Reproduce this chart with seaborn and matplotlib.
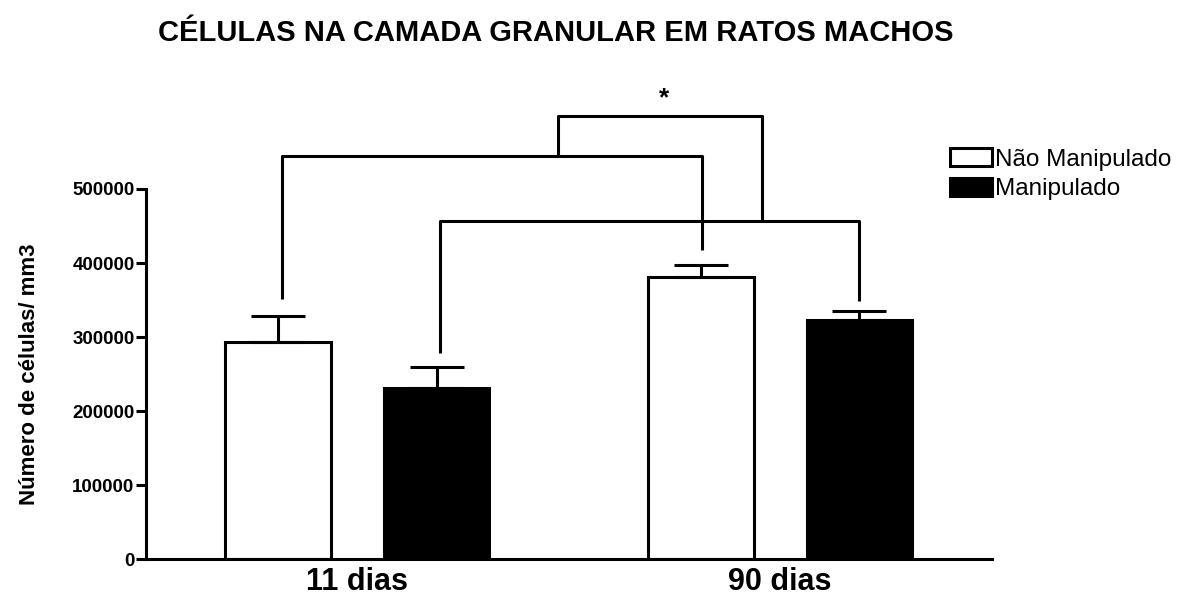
import matplotlib
matplotlib.use('Agg')
import matplotlib.pyplot as plt
import pandas as pd
import seaborn as sns
from matplotlib.patches import Patch

# Data
ages = ['11 dias', '90 dias']
groups = ['Não Manipulado', 'Manipulado']
means_nao = [292800, 381500]
means_man = [231500, 323000]
sem_nao = [35200, 16200]
sem_man = [28000, 11700]
yticks = [0, 100000, 200000, 300000, 400000, 500000]

# significance brackets: top line and the lower ends of the left/right legs
bracket_tops = [544300, 456600, 599000]
bracket_left_ends = [351600, 278000, 544300]
bracket_right_ends = [417200, 348000, 456600]

sns.set_theme(style='white')
plt.rcParams['font.family'] = ['Liberation Sans', 'DejaVu Sans']
for key in ['text.color', 'axes.labelcolor', 'xtick.color', 'ytick.color']:
    plt.rcParams[key] = 'black'

df = pd.DataFrame({
    'idade': ages * 2,
    'grupo': [groups[0]] * 2 + [groups[1]] * 2,
    'celulas': means_nao + means_man,
    'sem': sem_nao + sem_man,
})

fig = plt.figure(figsize=(11.79, 5.98), dpi=100)
ax = fig.add_axes([0.1236, 0.0652, 0.7175, 0.792])

lw = 2.2
sns.barplot(data=df, x='idade', y='celulas', hue='grupo', hue_order=groups,
            palette=['white', 'black'], width=0.75, gap=1/3,
            edgecolor='black', linewidth=lw, errorbar=None, legend=False, ax=ax)

bar_groups = list(ax.containers)
centres = [[b.get_x() + b.get_width() / 2 for b in g] for g in bar_groups]

# one-sided error bars at bar centres
for g, errs in zip(bar_groups, [sem_nao, sem_man]):
    for bar, e in zip(g, errs):
        xc = bar.get_x() + bar.get_width() / 2
        ax.errorbar(xc, bar.get_height(), yerr=[[0], [e]], fmt='none', ecolor='black',
                    elinewidth=lw, capsize=19.5, capthick=lw, zorder=3)

# brackets: white 11 -> white 90, black 11 -> black 90, then between them
xl = [centres[0][0] + 0.01, centres[1][0] + 0.008, 0.475]
xr = [centres[0][1] + 0.002, centres[1][1], 0.958]
for x0, x1, yt, y0, y1 in zip(xl, xr, bracket_tops, bracket_left_ends, bracket_right_ends):
    ax.plot([x0, x0, x1, x1], [y0, yt, yt, y1], color='black', lw=lw,
            clip_on=False, solid_capstyle='butt', zorder=4)
ax.text(0.725, 622000, '*', ha='center', va='center', fontsize=19,
        fontweight='bold', color='black')

ax.set_xlim(-0.5, 1.5)
ax.set_ylim(0, 640000)
ax.set_yticks(yticks)
ax.set_yticklabels([str(t) for t in yticks], fontsize=13.5, fontweight='bold')
ax.set_xticks([0, 1])
ax.set_xticklabels(ages, fontsize=22, fontweight='bold')
ax.tick_params(axis='y', length=7, width=lw, color='black', pad=1, direction='out', left=True)
ax.tick_params(axis='x', length=0, pad=6)
ax.set_xlabel('')
ax.set_ylabel('Número de células/ mm3', fontsize=16, fontweight='bold')
ax.yaxis.set_label_coords(-0.125, 0.39)

for s in ['top', 'right']:
    ax.spines[s].set_visible(False)
ax.spines['left'].set_bounds(0, 500000)
for s in ['left', 'bottom']:
    ax.spines[s].set_color('black')
    ax.spines[s].set_linewidth(lw)

fig.text(0.471, 0.945, 'CÉLULAS NA CAMADA GRANULAR EM RATOS MACHOS',
         ha='center', va='center', fontsize=21, fontweight='bold')

handles = [Patch(facecolor='white', edgecolor='black', linewidth=lw),
           Patch(facecolor='black', edgecolor='black', linewidth=lw)]
fig.legend(handles, groups, loc='upper left', bbox_to_anchor=(0.806, 0.752),
           frameon=False, fontsize=17.5, handlelength=1.7, handleheight=0.75,
           handletextpad=0.15, labelspacing=0.3, borderaxespad=0, borderpad=0)

fig.savefig('out.png', dpi=100)
